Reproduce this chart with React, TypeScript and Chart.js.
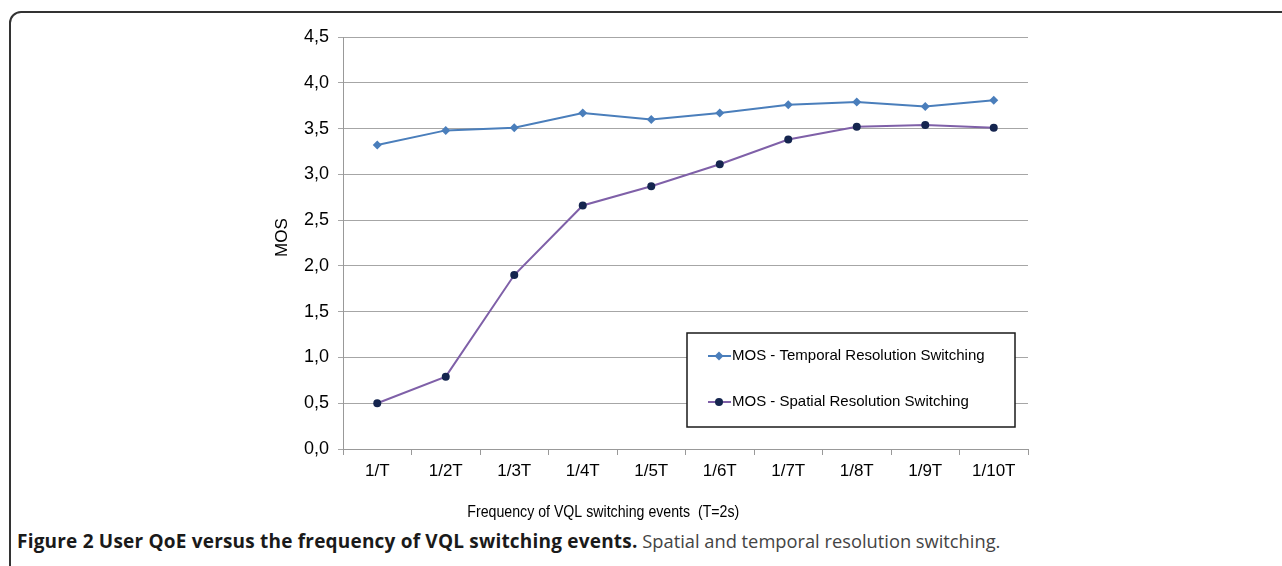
import React, { useEffect, useRef } from "react";
import { Chart, registerables } from "chart.js";

Chart.register(...registerables);

const categories = ["1/T", "1/2T", "1/3T", "1/4T", "1/5T", "1/6T", "1/7T", "1/8T", "1/9T", "1/10T"];
const temporalMOS = [3.32, 3.48, 3.51, 3.67, 3.6, 3.67, 3.76, 3.79, 3.74, 3.81];
const spatialMOS = [0.5, 0.79, 1.9, 2.66, 2.87, 3.11, 3.38, 3.52, 3.54, 3.51];
const seriesLabels = ["MOS - Temporal Resolution Switching", "MOS - Spatial Resolution Switching"];
const yAxisTitle = "MOS";
const xAxisTitle = "Frequency of VQL switching events  (T=2s)";
const captionBold = "Figure 2 User QoE versus the frequency of VQL switching events.";
const captionRest = " Spatial and temporal resolution switching.";

const FONT = '"Liberation Sans", Arial, sans-serif';

const overlayPlugin = {
  id: "overlay",
  afterDraw(chart: any) {
    const { ctx, chartArea: a } = chart;
    const w = a.right - a.left;
    const h = a.bottom - a.top;
    ctx.save();
    ctx.fillStyle = "#000";
    ctx.textBaseline = "middle";
    // x-axis title
    ctx.font = `17px ${FONT}`;
    ctx.textAlign = "center";
    ctx.fillText(xAxisTitle, a.left + w * 0.38, a.bottom + 63, 272);
    // y-axis title
    ctx.save();
    ctx.translate(a.left - 61, a.top + h * 0.487);
    ctx.rotate(-Math.PI / 2);
    ctx.font = `17px ${FONT}`;
    ctx.fillText(yAxisTitle, 0, 0);
    ctx.restore();

    // legend box
    const bx = a.left + 344;
    const by = a.top + 296;
    const bw = 328;
    const bh = 94;
    ctx.fillStyle = "#fff";
    ctx.fillRect(bx, by, bw, bh);
    ctx.strokeStyle = "#1a1a1a";
    ctx.lineWidth = 1.5;
    ctx.strokeRect(bx, by, bw, bh);

    const rows = [by + 23, by + 69];
    chart.data.datasets.forEach((ds: any, i: number) => {
      const y = rows[i];
      ctx.strokeStyle = ds.borderColor;
      ctx.lineWidth = 2;
      ctx.beginPath();
      ctx.moveTo(bx + 21, y);
      ctx.lineTo(bx + 44, y);
      ctx.stroke();
      const mx = bx + 32;
      ctx.fillStyle = ds.pointBackgroundColor;
      ctx.beginPath();
      if (ds.pointStyle === "rectRot") {
        const r = 4.5;
        ctx.moveTo(mx, y - r);
        ctx.lineTo(mx + r, y);
        ctx.lineTo(mx, y + r);
        ctx.lineTo(mx - r, y);
        ctx.closePath();
      } else {
        ctx.arc(mx, y, 4, 0, Math.PI * 2);
      }
      ctx.fill();
      ctx.fillStyle = "#000";
      ctx.textAlign = "left";
      ctx.font = `15px ${FONT}`;
      ctx.fillText(ds.label, bx + 45, y);
    });
    ctx.restore();
  },
};

export default function App() {
  const canvasRef = useRef<HTMLCanvasElement | null>(null);

  useEffect(() => {
    const canvas = canvasRef.current;
    if (!canvas) return;
    const chart = new Chart(canvas, {
      type: "line",
      data: {
        labels: categories,
        datasets: [
          {
            label: seriesLabels[0],
            data: temporalMOS,
            borderColor: "#4a7ebb",
            backgroundColor: "#4a7ebb",
            pointBackgroundColor: "#4a7ebb",
            pointBorderColor: "#4a7ebb",
            pointStyle: "rectRot",
            pointRadius: 4.5,
            pointBorderWidth: 0,
            borderWidth: 2,
            tension: 0,
          },
          {
            label: seriesLabels[1],
            data: spatialMOS,
            borderColor: "#7f60a8",
            backgroundColor: "#7f60a8",
            pointBackgroundColor: "#15254f",
            pointBorderColor: "#15254f",
            pointStyle: "circle",
            pointRadius: 4,
            pointBorderWidth: 0,
            borderWidth: 2,
            tension: 0,
          },
        ],
      },
      options: {
        responsive: false,
        animation: false,
        devicePixelRatio: 1,
        layout: { padding: { left: 255, right: 254, top: 37, bottom: 0 } },
        plugins: {
          legend: { display: false },
          tooltip: { enabled: false },
          title: { display: false },
        },
        scales: {
          x: {
            type: "category",
            offset: true,
            afterFit: (s: any) => {
              s.height = 71;
            },
            grid: {
              display: true,
              drawOnChartArea: false,
              drawTicks: true,
              tickLength: 6,
              color: "#999",
              offset: true,
            },
            border: { display: true, color: "#999", width: 1 },
            ticks: {
              color: "#000",
              padding: 6,
              maxRotation: 0,
              autoSkip: false,
              font: { family: FONT, size: 17 },
            },
          },
          y: {
            min: 0,
            max: 4.5,
            afterFit: (s: any) => {
              s.width = 88;
            },
            grid: {
              color: "#a6a6a6",
              tickLength: 5,
              drawTicks: true,
            },
            border: { display: true, color: "#999", width: 1 },
            ticks: {
              stepSize: 0.5,
              color: "#000",
              padding: 9,
              font: { family: FONT, size: 18 },
              callback: (v: any) => Number(v).toFixed(1).replace(".", ","),
            },
          },
        },
      },
      plugins: [overlayPlugin],
    });
    return () => chart.destroy();
  }, []);

  return (
    <div
      style={{
        position: "fixed",
        left: 0,
        top: 0,
        width: 1282,
        height: 566,
        overflow: "hidden",
        background: "#fff",
      }}
    >
      <div
        style={{
          position: "absolute",
          left: 9,
          top: 11,
          width: 1400,
          height: 700,
          border: "2px solid #333",
          borderRadius: 12,
          boxSizing: "border-box",
        }}
      />
      <canvas
        ref={canvasRef}
        width={1282}
        height={520}
        style={{ position: "absolute", left: 0, top: 0, width: 1282, height: 520 }}
      />
      <div
        style={{
          position: "absolute",
          left: 17,
          top: 528,
          fontFamily: '"Open Sans", sans-serif',
          fontSize: 19,
          lineHeight: "26px",
          whiteSpace: "nowrap",
        }}
      >
        <span style={{ fontWeight: 700, color: "#1a1a1a", letterSpacing: "0.2px" }}>{captionBold}</span>
        <span style={{ fontWeight: 400, color: "#444", fontSize: 18.3 }}>{captionRest}</span>
      </div>
    </div>
  );
}
